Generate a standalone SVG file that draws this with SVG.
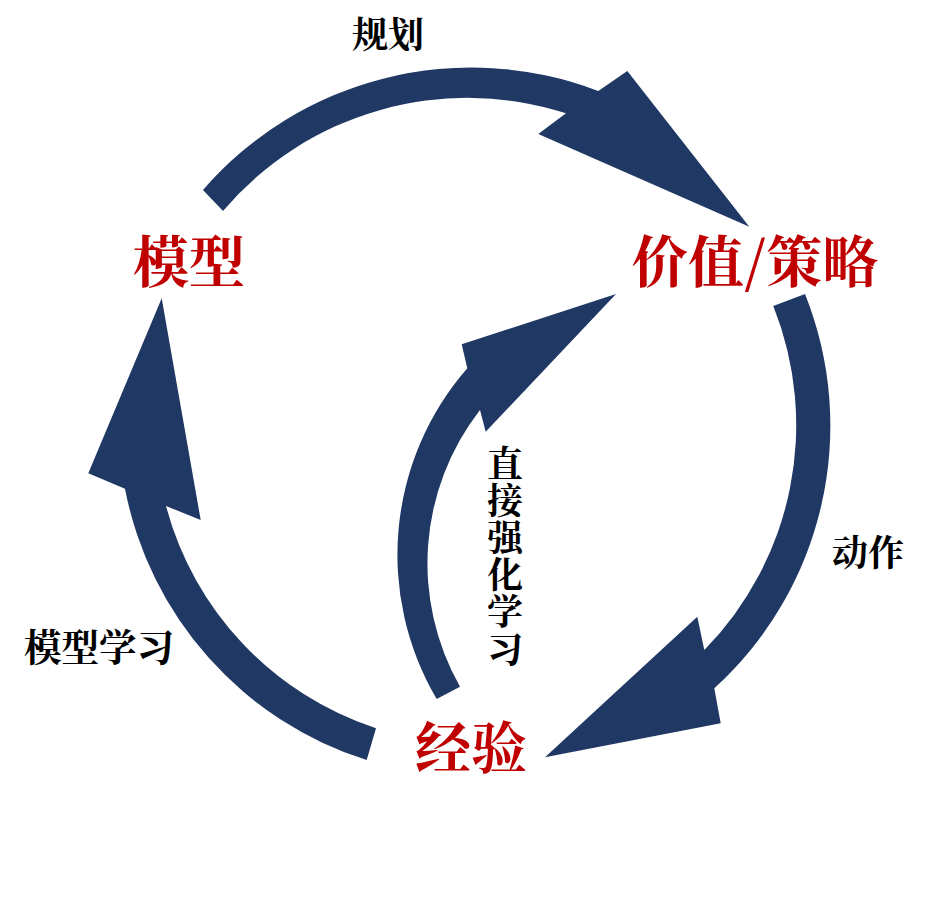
<svg xmlns="http://www.w3.org/2000/svg" width="930" height="918" viewBox="0 0 930 918">
  <style>
    .arrow { fill: #203864; stroke: none; }
    .node { font-family: "Noto Serif CJK SC", "Noto Sans CJK SC", serif; font-weight: bold; fill: #c00000; text-anchor: middle; font-size: 56px; }
    .lbl { font-family: "Noto Serif CJK SC", "Noto Sans CJK SC", serif; font-weight: bold; fill: #000000; text-anchor: middle; font-size: 36px; }
    .big { font-size: 37.5px; }
    .vert { writing-mode: vertical-rl; text-anchor: start; letter-spacing: 1.2px; }
  </style>
  <rect width="930" height="918" fill="#ffffff"/>
  <g id="connectors">
    <g id="edge-plan">
      <path class="arrow" d="M203,190 A355,355 0 0 1 598.3,91 L627.3,71 L749.3,226.7 L538.3,134 L566,113.3 A321,321 0 0 0 223,211 Z"/>
      <text class="lbl" x="388" y="48">规划</text>
    </g>
    <g id="edge-action">
      <path class="arrow" d="M805,294 A355,355 0 0 1 714.3,688.3 L720.7,723.3 L545,757.3 L697.3,616.7 L704.3,650 A321,321 0 0 0 773.3,306 Z"/>
      <text class="lbl" x="868" y="566">动作</text>
    </g>
    <g id="edge-model-learning">
      <path class="arrow" d="M366.7,760 A355,355 0 0 1 125,488.7 L88.3,473.3 L161.7,298.3 L200.7,520 L166,506 A321,321 0 0 0 376,728.3 Z"/>
      <text class="lbl big" x="99" y="661">模型学习</text>
    </g>
    <g id="edge-direct-rl">
      <path class="arrow" d="M436.7,699 A284,284 0 0 1 467.3,368.3 L461.7,344.3 L616,294 L485.7,431.7 L480,410 A250,250 0 0 0 460,686.7 Z"/>
      <text class="lbl vert" x="505" y="445">直接强化学习</text>
    </g>
  </g>
  <g id="node-model">
    <text class="node" x="189" y="282">模型</text>
  </g>
  <g id="node-value-policy">
    <text class="node" x="755" y="282">价值/策略</text>
  </g>
  <g id="node-experience">
    <text class="node" x="471" y="768">经验</text>
  </g>
</svg>
